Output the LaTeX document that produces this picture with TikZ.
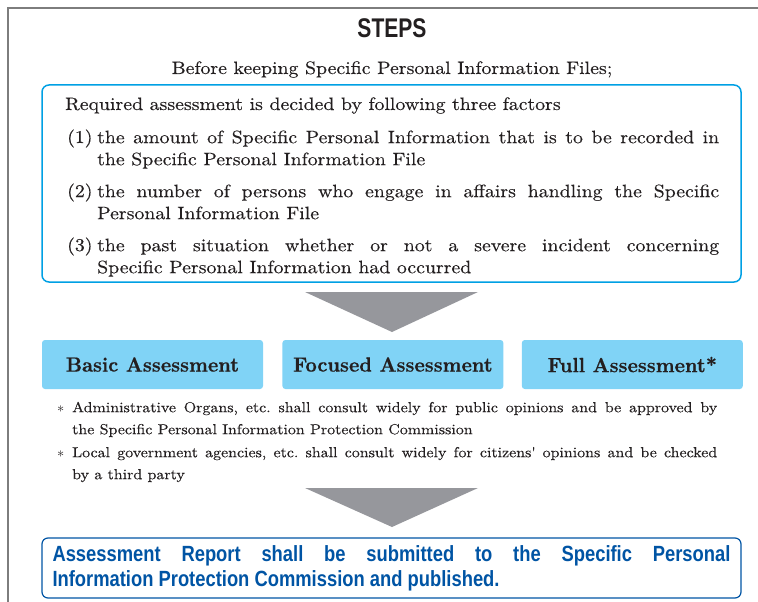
\documentclass[tikz,border=0pt]{standalone}
\usepackage{fontspec}
\setmainfont{lmroman10-regular.otf}[BoldFont=lmroman10-bold.otf,FakeStretch=1.1,FakeBold=0.3]
\newfontfamily\boxfont{lmroman10-bold.otf}[FakeStretch=0.96,FakeBold=0.6]
\newfontfamily\titlefont[FakeStretch=0.78]{Liberation Sans}
\newfontfamily\reportfont[FakeStretch=0.835]{Liberation Sans}
\usetikzlibrary{positioning}
\definecolor{framegray}{RGB}{125,125,125}
\definecolor{frameblue}{RGB}{0,160,228}
\definecolor{boxblue}{RGB}{128,211,246}
\definecolor{reportblue}{RGB}{0,84,164}
\definecolor{pointgray}{RGB}{150,151,156}
\definecolor{inkblack}{RGB}{35,31,32}
\frenchspacing
\tikzset{node distance=19pt,
    every node/.style={
        inner sep=0pt,
        text=inkblack},
    heading/.style={
        font=\titlefont\bfseries\fontsize{27}{30}\selectfont},
    lead/.style={
        font=\fontsize{18}{22}\selectfont},
    factorbox/.style={
        draw=frameblue,
        line width=1.5pt,
        rounded corners=7pt,
        minimum width=699pt,
        minimum height=197pt},
    itemlabel/.style={
        anchor=base west,
        font=\fontsize{18}{22}\selectfont},
    factortext/.style={
        anchor=north west,
        text width=622pt,
        align=justify,
        font=\fontsize{18}{22}\selectfont},
    assessbox/.style={
        fill=boxblue,
        rounded corners=3pt,
        minimum width=221pt,
        minimum height=49pt,
        font=\boxfont\fontsize{20.5}{24}\selectfont},
    notemark/.style={
        anchor=base west,
        font=\fontsize{14.5}{22}\selectfont},
    notetext/.style={
        anchor=north west,
        text width=645pt,
        align=justify,
        font=\fontsize{14.5}{22}\selectfont},
    pointer/.style={
        fill=pointgray},
    reportbox/.style={
        draw=reportblue,
        line width=1.2pt,
        rounded corners=6pt,
        inner xsep=10.5pt,
        text width=678pt,
        minimum height=60pt,
        align=justify,
        text=reportblue,
        font=\reportfont\bfseries\fontsize{22}{25}\selectfont}}

\begin{document}
\begin{tikzpicture}[x=1pt,y=-1pt]
        \useasboundingbox (0,0) rectangle (758,602);
        \draw[framegray, line width=1.5pt] (8,602) -- (8,8) -- (758,8);

        \node[heading] (steps) at (392,28) {STEPS};
        \node[lead, anchor=base] (before) at (392,74) {Before keeping Specific Personal Information Files;};

        \node[factorbox] (factors) at (391.5,183.5) {};
        \node[lead, anchor=base west] (decided) at (65,110) {Required assessment is decided by following three factors};
        \node[itemlabel] (l1) at (67,143) {(1)};
        \node[factortext] (f1) at (97,127.6) {\strut the amount of Specific Personal Information that is to be recorded in\linebreak the Specific Personal Information File};
        \node[itemlabel] (l2) at (67,197) {(2)};
        \node[factortext] (f2) at (97,181.6) {\strut the number of persons who engage in affairs handling the Specific\linebreak Personal Information File};
        \node[itemlabel] (l3) at (67,251) {(3)};
        \node[factortext] (f3) at (97,235.6) {\strut the past situation whether or not a severe incident concerning\linebreak Specific Personal Information had occurred};

        \fill[pointer] (305,292) -- (478,292) -- (392,332) -- cycle;

        \node[assessbox] (basic) at (152.5,364.5) {Basic Assessment};
        \node[assessbox, right=of basic] (focused) {Focused Assessment};
        \node[assessbox, right=18pt of focused] (full) {Full Assessment*};

        \node[notemark] (m1) at (57,412) {$\ast$};
        \node[notetext] (n1) at (72,396.6) {\strut Administrative Organs, etc. shall consult widely for public opinions and be approved by\linebreak the Specific Personal Information Protection Commission};
        \node[notemark] (m2) at (57,457) {$\ast$};
        \node[notetext] (n2) at (72,441.6) {\strut Local government agencies, etc. shall consult widely for citizens\textquotesingle\ opinions and be checked\linebreak by a third party};

        \fill[pointer] (305,488) -- (478,488) -- (392,527) -- cycle;

        \node[reportbox] (report) at (391.5,568) {Assessment Report shall be submitted to the Specific Personal\linebreak Information Protection Commission and published.};
\end{tikzpicture}
\end{document}
